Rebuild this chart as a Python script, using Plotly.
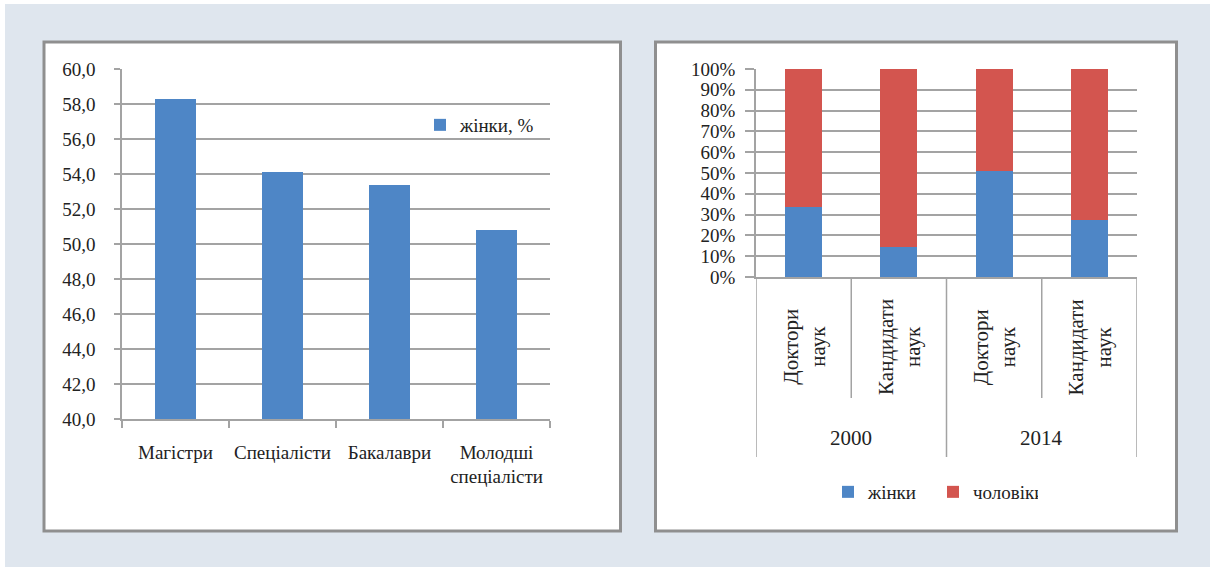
import plotly.graph_objects as go

# ---------------- data ----------------
left_categories = ["Магістри", "Спеціалісти", "Бакалаври", "Молодші<br>спеціалісти"]
left_women = [58.3, 54.1, 53.4, 50.8]
left_series_name = "жінки, %"
left_ticks = [40, 42, 44, 46, 48, 50, 52, 54, 56, 58, 60]

right_degrees = ["Доктори<br>наук", "Кандидати<br>наук", "Доктори<br>наук", "Кандидати<br>наук"]
right_years = ["2000", "2014"]
right_women = [33.7, 14.4, 51.0, 27.5]
right_men = [66.3, 85.6, 49.0, 72.5]
right_ticks = [0, 10, 20, 30, 40, 50, 60, 70, 80, 90, 100]
right_ticktext = ["0%", "10%", "20%", "30%", "40%", "50%", "60%", "70%", "80%", "90%", "100%"]

# ---------------- style ----------------
W, H = 1210, 567
FONT = "Liberation Serif"
TXT = "#222222"
BLUE = "#4e86c6"
RED = "#d3554f"
GRID = "#a3a3a3"
BG = "#dfe6ee"
BORDER = "#8f8f8f"


def px(x):
    return x / W


def py(y):
    return (H - y) / H


fig = go.Figure()

fig.add_trace(go.Bar(
    x=left_categories, y=left_women, name=left_series_name,
    marker=dict(color=BLUE, line=dict(width=0)),
    xaxis="x", yaxis="y", legend="legend", showlegend=True,
))

positions = list(range(len(right_degrees)))
fig.add_trace(go.Bar(
    x=positions, y=right_women, name="жінки",
    marker=dict(color=BLUE, line=dict(width=0)),
    xaxis="x2", yaxis="y2", legend="legend2", showlegend=True,
))
fig.add_trace(go.Bar(
    x=positions, y=right_men, name="чоловіки",
    marker=dict(color=RED, line=dict(width=0)),
    xaxis="x2", yaxis="y2", legend="legend2", showlegend=True,
))

shapes = [
    dict(type="rect", xref="paper", yref="paper", x0=px(5), x1=1, y0=0, y1=py(4),
         fillcolor=BG, line=dict(width=0), layer="below"),
    dict(type="rect", xref="paper", yref="paper", x0=px(44), x1=px(620.5), y0=py(531), y1=py(42),
         fillcolor="white", line=dict(color=BORDER, width=3), layer="below"),
    dict(type="rect", xref="paper", yref="paper", x0=px(655.5), x1=px(1176.5), y0=py(531), y1=py(42),
         fillcolor="white", line=dict(color=BORDER, width=3), layer="below"),
]

# dividers under the right chart (multi-level category axis)
n = len(right_degrees)
per_year = n // len(right_years)
for k in range(len(right_years) + 1):
    xb = k * per_year - 0.5
    shapes.append(dict(type="line", xref="x2", yref="paper", x0=xb, x1=xb,
                       y0=py(457), y1=py(277), line=dict(color=GRID, width=1.5)))
for k in range(len(right_years)):
    for j in range(1, per_year):
        xb = k * per_year + j - 0.5
        shapes.append(dict(type="line", xref="x2", yref="paper", x0=xb, x1=xb,
                           y0=py(398), y1=py(277), line=dict(color=GRID, width=1.5)))

annotations = []
for i, lab in enumerate(right_degrees):
    annotations.append(dict(
        x=positions[i], xref="x2", y=py(347), yref="paper", text=lab, textangle=-90,
        showarrow=False, align="center", xanchor="center", yanchor="middle",
        font=dict(family=FONT, size=21, color=TXT),
    ))
for k, yr in enumerate(right_years):
    annotations.append(dict(
        x=k * per_year + (per_year - 1) / 2, xref="x2", y=py(438), yref="paper", text=yr,
        showarrow=False, xanchor="center", yanchor="middle",
        font=dict(family=FONT, size=21, color=TXT),
    ))

axis_font = dict(family=FONT, size=19, color=TXT)

fig.update_layout(
    template="none",
    width=W, height=H, autosize=False,
    margin=dict(l=0, r=0, t=0, b=0, pad=0),
    paper_bgcolor="white",
    plot_bgcolor="rgba(0,0,0,0)",
    separators=", ",
    barmode="stack",
    bargap=0.61,
    showlegend=True,
    font=dict(family=FONT, size=19, color=TXT),
    shapes=shapes,
    annotations=annotations,
    xaxis=dict(
        domain=[px(122), px(550)], anchor="y", automargin=False,
        showline=True, linecolor=GRID, linewidth=1.5,
        ticks="outside", tickson="boundaries", ticklen=7, tickcolor=GRID, tickwidth=1.5,
        tickfont=axis_font, ticklabelstandoff=15, showgrid=False,
    ),
    yaxis=dict(
        domain=[py(419), py(69)], anchor="x", automargin=False,
        range=[40, 60], tickvals=left_ticks, tickformat=".1f",
        showline=True, linecolor=GRID, linewidth=1.5,
        ticks="outside", ticklen=6, tickcolor=GRID, tickwidth=1.5,
        showgrid=True, gridcolor=GRID, gridwidth=1.5,
        tickfont=axis_font, ticklabelstandoff=15, zeroline=False,
    ),
    xaxis2=dict(
        domain=[px(756), px(1137)], anchor="y2", automargin=False,
        range=[-0.5, n - 0.5], showticklabels=False, ticks="",
        showline=True, linecolor=GRID, linewidth=1.5, showgrid=False, zeroline=False,
    ),
    yaxis2=dict(
        domain=[py(277), py(69)], anchor="x2", automargin=False,
        range=[0, 100], tickvals=right_ticks, ticktext=right_ticktext,
        showline=True, linecolor=GRID, linewidth=1.5,
        ticks="outside", ticklen=9, tickcolor=GRID, tickwidth=1.5,
        showgrid=True, gridcolor=GRID, gridwidth=1.5,
        tickfont=axis_font, ticklabelstandoff=6, zeroline=False,
    ),
    legend=dict(
        visible=True,
        x=px(420), y=py(125), xanchor="left", yanchor="middle",
        orientation="h", bgcolor="rgba(0,0,0,0)",
        font=dict(family=FONT, size=19, color=TXT),
    ),
    legend2=dict(
        visible=True,
        x=px(828), y=py(492), xanchor="left", yanchor="middle",
        orientation="h", bgcolor="rgba(0,0,0,0)", entrywidth=60,
        font=dict(family=FONT, size=19, color=TXT), traceorder="normal",
    ),
)

fig.write_html(
    "out.html",
    config={"displayModeBar": False, "responsive": False},
    post_script="document.body.style.margin='0';document.body.style.overflow='hidden';",
)
